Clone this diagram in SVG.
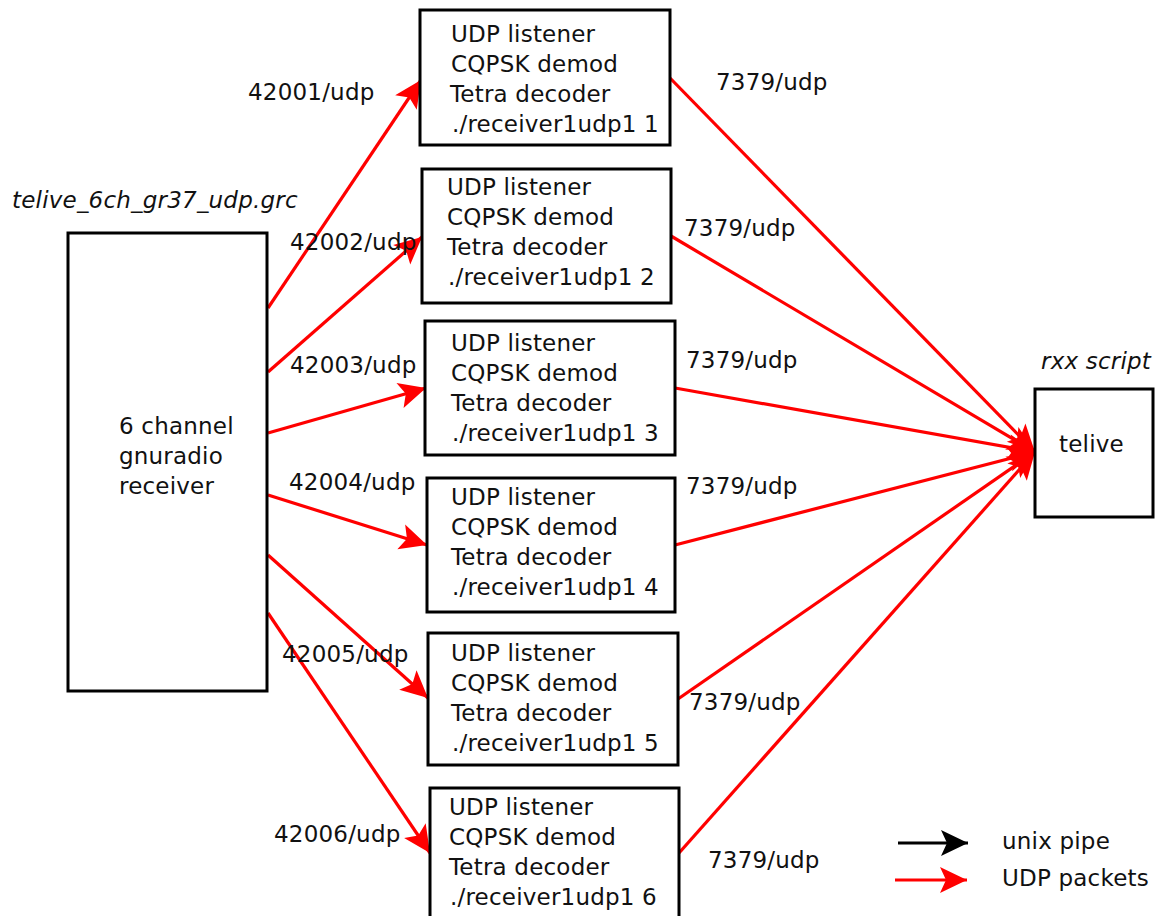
<svg xmlns="http://www.w3.org/2000/svg" width="1159" height="916" viewBox="0 0 1159 916">
<defs>
<style>
.box{fill:#fff;stroke:#000;stroke-width:3}
.t{font-family:"DejaVu Sans",sans-serif;font-size:23px;fill:#111;letter-spacing:0.2px}
.it{font-style:italic}
.udp{stroke:#ff0000;stroke-width:3.2;fill:none;marker-end:url(#ar)}
.pipe{stroke:#000;stroke-width:3.2;fill:none;marker-end:url(#ab)}
</style>
<marker id="ar" markerUnits="userSpaceOnUse" markerWidth="32" markerHeight="32" viewBox="-30 -16 32 32" refX="0" refY="0" orient="auto">
<path d="M0,0 L-27,-13 L-21,0 L-27,13 Z" fill="#ff0000"/>
</marker>
<marker id="ab" markerUnits="userSpaceOnUse" markerWidth="32" markerHeight="32" viewBox="-30 -16 32 32" refX="0" refY="0" orient="auto">
<path d="M0,0 L-27,-13 L-21,0 L-27,13 Z" fill="#000"/>
</marker>
</defs>
<rect width="1159" height="916" fill="#fff"/>

<g id="connectors">
<line class="udp" x1="268" y1="308" x2="421" y2="80"/>
<line class="udp" x1="268" y1="372" x2="422" y2="237"/>
<line class="udp" x1="268" y1="433" x2="426" y2="388"/>
<line class="udp" x1="268" y1="495" x2="427" y2="545"/>
<line class="udp" x1="268" y1="555" x2="428" y2="698"/>
<line class="udp" x1="268" y1="613" x2="430" y2="853"/>
<line class="udp" x1="670" y1="78" x2="1035" y2="452"/>
<line class="udp" x1="671" y1="236" x2="1035" y2="452"/>
<line class="udp" x1="675" y1="388" x2="1035" y2="452"/>
<line class="udp" x1="675" y1="545" x2="1035" y2="452"/>
<line class="udp" x1="678" y1="699" x2="1035" y2="452"/>
<line class="udp" x1="679" y1="853" x2="1035" y2="452"/>
</g>

<g id="labels">
<text class="t" x="248" y="100">42001/udp</text>
<text class="t" x="290" y="250">42002/udp</text>
<text class="t" x="290" y="373">42003/udp</text>
<text class="t" x="289" y="490">42004/udp</text>
<text class="t" x="282" y="662">42005/udp</text>
<text class="t" x="274" y="842">42006/udp</text>
<text class="t" x="716" y="90">7379/udp</text>
<text class="t" x="684" y="236">7379/udp</text>
<text class="t" x="686" y="368">7379/udp</text>
<text class="t" x="686" y="494">7379/udp</text>
<text class="t" x="689" y="710">7379/udp</text>
<text class="t" x="708" y="868">7379/udp</text>
</g>

<g id="receiver">
<text class="t it" x="12" y="208">telive_6ch_gr37_udp.grc</text>
<rect class="box" x="68" y="233" width="199" height="458"/>
<text class="t" x="119" y="434">6 channel</text>
<text class="t" x="119" y="464">gnuradio</text>
<text class="t" x="119" y="494">receiver</text>
</g>

<g id="rx1">
<rect class="box" x="420" y="10" width="250" height="135"/>
<text class="t" x="451" y="42">UDP listener</text>
<text class="t" x="451" y="72">CQPSK demod</text>
<text class="t" x="450" y="102">Tetra decoder</text>
<text class="t" x="452" y="132">./receiver1udp1 1</text>
</g>
<g id="rx2">
<rect class="box" x="422" y="169" width="249" height="134"/>
<text class="t" x="447" y="195">UDP listener</text>
<text class="t" x="447" y="225">CQPSK demod</text>
<text class="t" x="447" y="255">Tetra decoder</text>
<text class="t" x="448" y="285">./receiver1udp1 2</text>
</g>
<g id="rx3">
<rect class="box" x="425" y="321" width="250" height="134"/>
<text class="t" x="451" y="351">UDP listener</text>
<text class="t" x="451" y="381">CQPSK demod</text>
<text class="t" x="451" y="411">Tetra decoder</text>
<text class="t" x="452" y="441">./receiver1udp1 3</text>
</g>
<g id="rx4">
<rect class="box" x="427" y="478" width="248" height="134"/>
<text class="t" x="451" y="505">UDP listener</text>
<text class="t" x="451" y="535">CQPSK demod</text>
<text class="t" x="451" y="565">Tetra decoder</text>
<text class="t" x="452" y="595">./receiver1udp1 4</text>
</g>
<g id="rx5">
<rect class="box" x="428" y="633" width="250" height="132"/>
<text class="t" x="451" y="661">UDP listener</text>
<text class="t" x="451" y="691">CQPSK demod</text>
<text class="t" x="451" y="721">Tetra decoder</text>
<text class="t" x="452" y="751">./receiver1udp1 5</text>
</g>
<g id="rx6">
<rect class="box" x="430" y="788" width="249" height="140"/>
<text class="t" x="449" y="815">UDP listener</text>
<text class="t" x="449" y="845">CQPSK demod</text>
<text class="t" x="449" y="875">Tetra decoder</text>
<text class="t" x="450" y="905">./receiver1udp1 6</text>
</g>

<g id="telive">
<text class="t it" x="1041" y="369">rxx script</text>
<rect class="box" x="1035" y="389" width="118" height="128"/>
<text class="t" x="1059" y="452">telive</text>
</g>

<g id="legend">
<line class="pipe" x1="898" y1="843" x2="968" y2="843"/>
<line class="udp" x1="895" y1="880" x2="967" y2="880"/>
<text class="t" x="1002" y="849">unix pipe</text>
<text class="t" x="1002" y="886">UDP packets</text>
</g>
</svg>
